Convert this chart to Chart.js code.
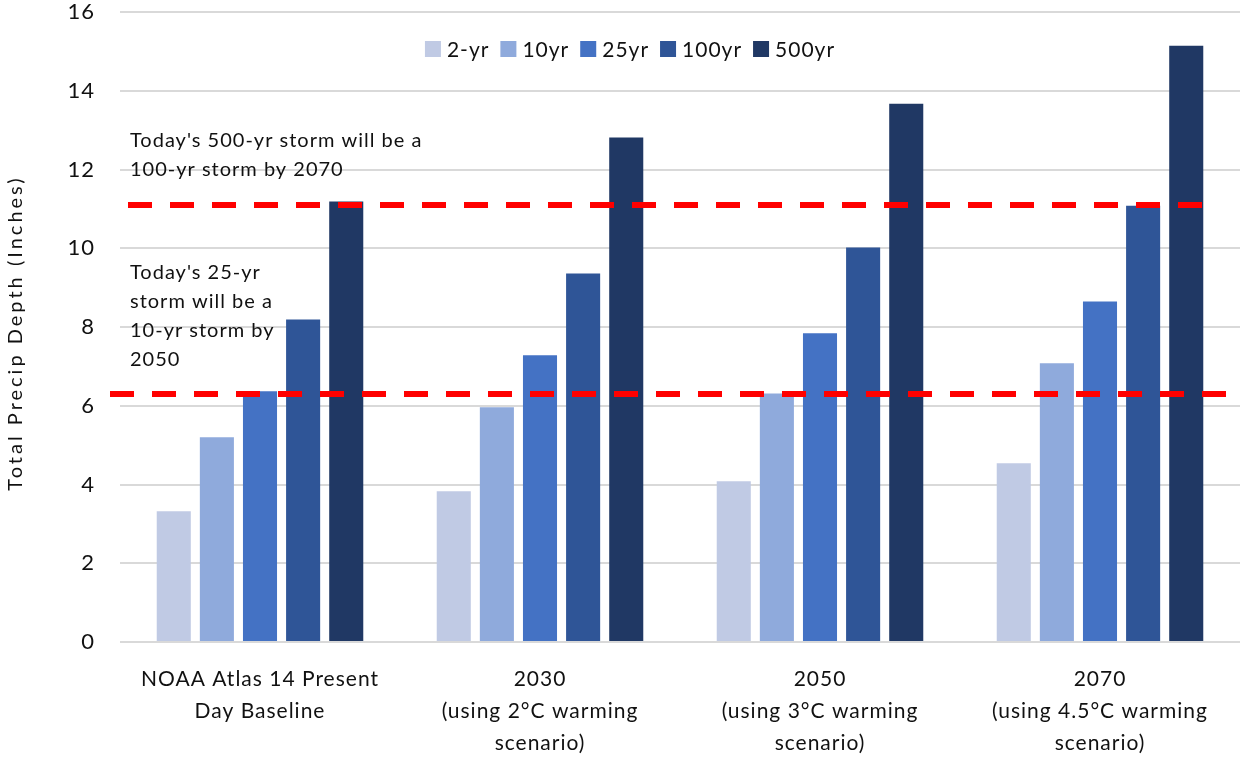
<!DOCTYPE html>
<html>
<head>
<meta charset="utf-8">
<script src="https://cdn.jsdelivr.net/npm/chart.js@4/dist/chart.umd.min.js"></script>
<style>
  html, body { margin: 0; padding: 0; background: #ffffff; }
  #wrap { width: 1240px; height: 760px; }
</style>
</head>
<body>
<div id="wrap"><canvas id="chart" width="1240" height="760"></canvas></div>
<script>
// Scenario groups shown along the x axis (multi-line labels)
const categories = [
  ["NOAA Atlas 14 Present", "Day Baseline"],
  ["2030", "(using 2°C warming", "scenario)"],
  ["2050", "(using 3°C warming", "scenario)"],
  ["2070", "(using 4.5°C warming", "scenario)"]
];

// Storm return periods
const seriesNames = ["2-yr", "10yr", "25yr", "100yr", "500yr"];

// Total precipitation depth (inches) per return period
const twoYear        = [3.32, 3.83, 4.08, 4.54];
const tenYear        = [5.20, 5.96, 6.31, 7.08];
const twentyFiveYear = [6.37, 7.28, 7.84, 8.65];
const hundredYear    = [8.19, 9.36, 10.02, 11.08];
const fiveHundredYear = [11.19, 12.81, 13.67, 15.14];

// Reference depths marked with dashed lines
const thresholds = [11.1, 6.3];

// Callout notes
const upperNote = ["Today's 500-yr storm will be a", "100-yr storm by 2070"];
const lowerNote = ["Today's 25-yr", "storm will be a", "10-yr storm by", "2050"];

// Axis settings
const yTicks = { min: 0, max: 16, step: 2 };
const yTitle = "Total Precip Depth (Inches)";

const seriesColors = ["#C0CAE4", "#8FAADC", "#4472C4", "#2F5597", "#203864"];
const FONT = "Lato, 'Open Sans', sans-serif";
const INK = '#111111';

const seriesValues = [twoYear, tenYear, twentyFiveYear, hundredYear, fiveHundredYear];
const datasets = seriesNames.map((name, i) => ({
  label: name,
  data: seriesValues[i],
  backgroundColor: seriesColors[i],
  borderWidth: 0,
  barPercentage: 0.79,
  categoryPercentage: 0.77
}));

// Slightly open letter spacing for all text on the canvas
const spacing = {
  id: 'spacing',
  beforeDraw(chart) { chart.ctx.letterSpacing = '1px'; }
};

// Dashed threshold lines, text callouts and the vertical axis title
const overlay = {
  id: 'overlay',
  afterDatasetsDraw(chart) {
    const { ctx, chartArea, scales } = chart;
    const y = scales.y;
    ctx.save();
    ctx.strokeStyle = '#FF0000';
    ctx.lineWidth = 6;
    ctx.setLineDash([24, 18]);
    const spans = [[128, 1202], [110, 1226]];
    thresholds.forEach((v, i) => {
      const py = Math.round(y.getPixelForValue(v));
      ctx.beginPath();
      ctx.moveTo(spans[i][0], py);
      ctx.lineTo(spans[i][1], py);
      ctx.stroke();
    });
    ctx.restore();

    ctx.save();
    ctx.fillStyle = INK;
    ctx.font = "20px " + FONT;
    ctx.letterSpacing = '1px';
    ctx.textBaseline = 'middle';
    ctx.textAlign = 'left';
    upperNote.forEach((t, i) => ctx.fillText(t, 130, 141 + i * 29));
    lowerNote.forEach((t, i) => ctx.fillText(t, 130, 273 + i * 29));
    ctx.restore();

    // rotated y axis title
    ctx.save();
    ctx.fillStyle = INK;
    ctx.font = "20px " + FONT;
    ctx.letterSpacing = '3px';
    ctx.textBaseline = 'middle';
    ctx.textAlign = 'center';
    ctx.translate(16, (chartArea.top + chartArea.bottom) / 2 + 6);
    ctx.rotate(-Math.PI / 2);
    ctx.fillText(yTitle, 0, 0);
    ctx.restore();
  }
};

// Legend drawn inside the plot, near the top
const insideLegend = {
  id: 'insideLegend',
  afterDraw(chart) {
    const { ctx } = chart;
    ctx.save();
    ctx.font = "21px " + FONT;
    ctx.letterSpacing = '1px';
    ctx.textBaseline = 'middle';
    const box = 16, boxGap = 6, itemGap = 11;
    const widths = chart.data.datasets.map(d => box + boxGap + ctx.measureText(d.label).width);
    const total = widths.reduce((a, b) => a + b, 0) + itemGap * (widths.length - 1);
    let x = 630 - total / 2;
    const cy = 49;
    chart.data.datasets.forEach((d, i) => {
      ctx.fillStyle = d.backgroundColor;
      ctx.fillRect(x, cy - box / 2, box, box);
      ctx.fillStyle = INK;
      ctx.fillText(d.label, x + box + boxGap, cy + 1);
      x += widths[i] + itemGap;
    });
    ctx.restore();
  }
};

new Chart(document.getElementById('chart'), {
  type: 'bar',
  data: { labels: categories, datasets },
  plugins: [spacing, overlay, insideLegend],
  options: {
    responsive: false,
    animation: false,
    devicePixelRatio: 1,
    layout: { padding: { top: 12, right: 0, left: 0, bottom: 0 } },
    plugins: {
      legend: { display: false },
      tooltip: { enabled: false }
    },
    scales: {
      x: {
        grid: { display: false, drawTicks: false },
        border: { display: false },
        ticks: {
          color: INK,
          font: { family: FONT, size: 21, lineHeight: 1.52 },
          padding: 21,
          maxRotation: 0,
          autoSkip: false
        },
        afterFit(scale) {
          scale.height = 118;
          scale.paddingLeft = 0;
          scale.paddingRight = 0;
        }
      },
      y: {
        min: yTicks.min,
        max: yTicks.max,
        grid: { color: '#D9D9D9', lineWidth: 2, drawTicks: false },
        border: { display: false },
        ticks: {
          stepSize: yTicks.step,
          color: INK,
          font: { family: FONT, size: 22 },
          padding: 25
        },
        afterFit(scale) {
          scale.width = 120;
          scale.paddingTop = 0;
          scale.paddingBottom = 0;
        }
      }
    }
  }
});
</script>
</body>
</html>
